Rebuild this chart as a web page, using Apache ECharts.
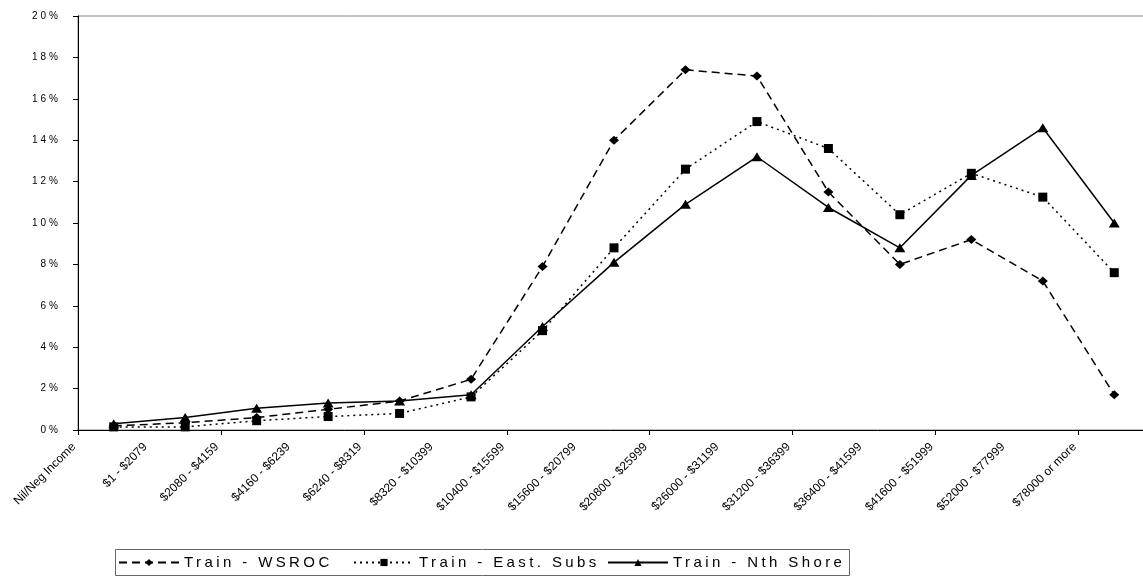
<!DOCTYPE html>
<html>
<head>
<meta charset="utf-8">
<script src="https://cdn.jsdelivr.net/npm/echarts@6/dist/echarts.min.js"></script>
<style>
html,body{margin:0;padding:0;background:#fff;}
#chart{width:1143px;height:577px;}
</style>
</head>
<body>
<div id="chart"></div>
<script>
const categories = ['Nil/Neg Income', '$1 - $2079', '$2080 - $4159', '$4160 - $6239', '$6240 - $8319', '$8320 - $10399', '$10400 - $15599', '$15600 - $20799', '$20800 - $25999', '$26000 - $31199', '$31200 - $36399', '$36400 - $41599', '$41600 - $51999', '$52000 - $77999', '$78000 or more'];
const seriesNames = ['Train - WSROC', 'Train - East. Subs', 'Train - Nth Shore'];
const wsroc = [0.2, 0.35, 0.6, 1.0, 1.4, 2.45, 7.9, 14.0, 17.4, 17.1, 11.5, 8.0, 9.2, 7.2, 1.7];
const eastSubs = [0.15, 0.15, 0.45, 0.65, 0.8, 1.6, 4.8, 8.8, 12.6, 14.9, 13.6, 10.4, 12.4, 11.25, 7.6];
const nthShore = [0.3, 0.6, 1.05, 1.3, 1.4, 1.7, 5.0, 8.1, 10.9, 13.2, 10.75, 8.8, 12.3, 14.6, 10.0];
const yTicks = { min: 0, max: 20, interval: 2 };

// Letter spacing like the original rendering (legend and y labels only)
(function () {
  const proto = CanvasRenderingContext2D.prototype;
  const orig = proto.fillText;
  proto.fillText = function (t, x, y, w) {
    let ls = 0;
    const s = String(t);
    if (seriesNames.indexOf(s) >= 0) ls = 3.4;
    else if (/^\d+%$/.test(s)) ls = 3;
    if (ls && 'letterSpacing' in this) {
      this.save();
      const f = this.font;
      this.letterSpacing = ls + 'px';
      this.font = f;
      const r = w === undefined ? orig.call(this, t, x, y) : orig.call(this, t, x, y, w);
      this.restore();
      const f2 = this.font;
      this.letterSpacing = '0px';
      this.font = f2;
      return r;
    }
    return w === undefined ? orig.call(this, t, x, y) : orig.call(this, t, x, y, w);
  };
})();

const FONT = 'Liberation Sans, Arial, sans-serif';
const chart = echarts.init(document.getElementById('chart'), null, { renderer: 'canvas' });

function legendAt(left, name) {
  return {
    left: left, top: 555, padding: 0,
    itemWidth: 60, itemHeight: 9, itemGap: 0,
    data: [name],
    textStyle: { fontFamily: FONT, fontSize: 15, color: '#000' },
    selectedMode: false
  };
}

chart.setOption({
  animation: false,
  backgroundColor: '#fff',
  grid: [
    { left: 78, top: 16, right: -7, bottom: 147, outerBoundsMode: 'none', containLabel: false,
      show: true, borderColor: '#808080', borderWidth: 1 },
    { left: 74, top: 16, right: -3, bottom: 147, outerBoundsMode: 'none', containLabel: false, show: false }
  ],
  legend: [legendAt(118, seriesNames[0]), legendAt(353, seriesNames[1]), legendAt(607, seriesNames[2])],
  graphic: [{
    type: 'rect', left: 113, top: 547, shape: { width: 734, height: 26 },
    style: { fill: 'none', stroke: '#666', lineWidth: 1 }, silent: true
  }],
  xAxis: [{
    type: 'category', data: categories, boundaryGap: true, position: 'bottom', gridIndex: 0,
    axisLine: { lineStyle: { color: '#000', width: 1 } },
    axisTick: { show: true, length: 5, lineStyle: { color: '#000' } },
    axisLabel: { show: false },
    splitLine: { show: false }
  }, {
    type: 'category', data: categories.concat(['']), boundaryGap: false, position: 'bottom', gridIndex: 1,
    axisLine: { show: false }, axisTick: { show: false }, splitLine: { show: false },
    axisLabel: { interval: 0, rotate: 45, margin: 15, fontFamily: FONT, fontSize: 12, color: '#000' }
  }],
  yAxis: [{
    type: 'value', min: yTicks.min, max: yTicks.max, interval: yTicks.interval, gridIndex: 0,
    axisLine: { show: true, lineStyle: { color: '#000', width: 1 } },
    axisTick: { show: true, length: 5, lineStyle: { color: '#000' } },
    splitLine: { show: false },
    axisLabel: { formatter: '{value}%', margin: 17, fontFamily: FONT, fontSize: 10, color: '#000' }
  }, {
    type: 'value', min: yTicks.min, max: yTicks.max, interval: yTicks.interval, gridIndex: 1, show: false
  }],
  series: [{
    name: seriesNames[0], type: 'line', data: wsroc, xAxisIndex: 0, yAxisIndex: 0,
    symbol: 'diamond', symbolSize: [10, 9],
    itemStyle: { color: '#000' },
    lineStyle: { color: '#000', width: 1.5, type: [8, 5] }
  }, {
    name: seriesNames[1], type: 'line', data: eastSubs, xAxisIndex: 0, yAxisIndex: 0,
    symbol: 'rect', symbolSize: 9,
    itemStyle: { color: '#000' },
    lineStyle: { color: '#000', width: 1.5, type: [2, 4] }
  }, {
    name: seriesNames[2], type: 'line', data: nthShore, xAxisIndex: 0, yAxisIndex: 0,
    symbol: 'triangle', symbolSize: [11, 9],
    itemStyle: { color: '#000' },
    lineStyle: { color: '#000', width: 1.5, type: 'solid' }
  }]
});
</script>
</body>
</html>
